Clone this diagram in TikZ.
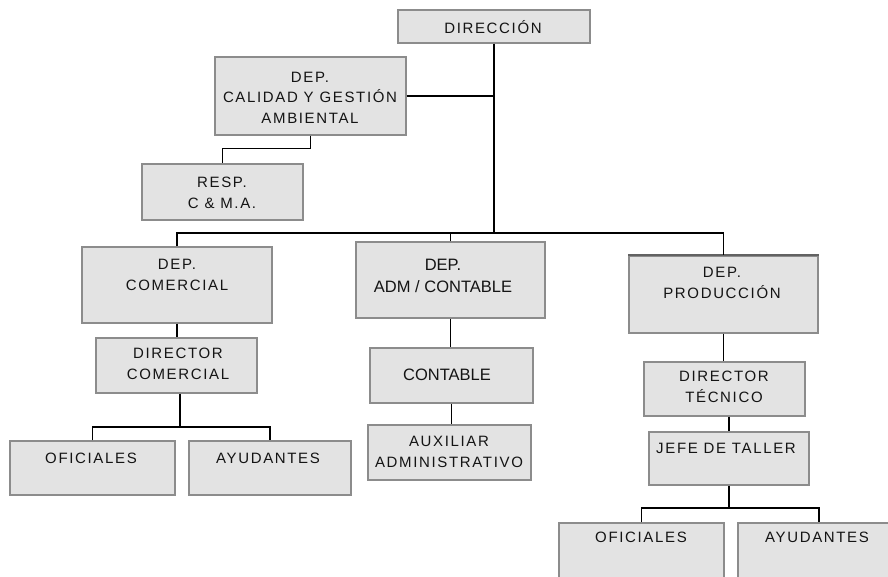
\documentclass[tikz,border=0pt]{standalone}
\usepackage{fontspec}
\setmainfont{Liberation Sans}
\newfontfamily\spaced[LetterSpace=11]{Liberation Sans}
\definecolor{boxfill}{RGB}{227,227,227}
\definecolor{boxline}{RGB}{140,140,140}
\definecolor{ink}{RGB}{20,20,20}
\tikzset{
  orgbox/.style={draw=boxline, fill=boxfill, line width=1.2pt, inner sep=0pt, anchor=center},
  lbl/.style={anchor=base, inner sep=0pt, align=center, text=ink, font=\spaced\fontsize{15}{20.5}\selectfont},
  lblplain/.style={anchor=base, inner sep=0pt, align=center, text=ink, font=\fontsize{16.5}{22}\selectfont},
  link/.style={draw=black, line width=1.3pt}
}
\begin{document}
\begin{tikzpicture}[x=1pt,y=-1pt]
\useasboundingbox (0,0) rectangle (888,576);
\clip (0,0) rectangle (888,576);
% boxes: centre = middle of corners
\node[orgbox, minimum width=192pt, minimum height=33pt] (dir) at (494,26.5) {};
\node[orgbox, minimum width=191pt, minimum height=78pt] (cal) at (310.5,96) {};
\node[orgbox, minimum width=161pt, minimum height=56pt] (resp) at (222.5,192) {};
\node[orgbox, minimum width=190pt, minimum height=76pt] (com) at (177,285) {};
\node[orgbox, minimum width=161pt, minimum height=55pt] (dcom) at (176.5,365.5) {};
\node[orgbox, minimum width=165pt, minimum height=54pt] (ofl) at (92.5,468) {};
\node[orgbox, minimum width=162pt, minimum height=54pt] (ayl) at (270,468) {};
\node[orgbox, minimum width=189pt, minimum height=76pt] (adm) at (450.5,280) {};
\node[orgbox, minimum width=163pt, minimum height=55pt] (cont) at (451.5,375.5) {};
\node[orgbox, minimum width=163pt, minimum height=55pt] (aux) at (449.5,452.5) {};
\node[orgbox, minimum width=189pt, minimum height=77pt] (prod) at (723.5,294.5) {};
\node[orgbox, minimum width=161pt, minimum height=54pt] (dtec) at (724.5,389) {};
\node[orgbox, minimum width=160pt, minimum height=53pt] (jefe) at (729,458.5) {};
\node[orgbox, minimum width=165pt, minimum height=67pt] (ofr) at (641.5,556.5) {};
\node[orgbox, minimum width=162pt, minimum height=67pt] (ayr) at (819,556.5) {};
\draw[boxline!70!black, line width=2pt] (prod.north west) -- (prod.north east);
% labels (base = baseline of last line)
\node[lbl] (tdir) at (493,33) {DIRECCIÓN};
\node[lbl] (tcal) at (310,123) {DEP.\\CALIDAD Y GESTIÓN\\AMBIENTAL};
\node[lbl] (tresp) at (222,208) {RESP.\\C \& M.A.};
\node[lbl] (tcom) at (177,290) {DEP.\\COMERCIAL};
\node[lbl] (tdcom) at (178,379) {DIRECTOR\\COMERCIAL};
\node[lbl] (tofl) at (91,463) {OFICIALES};
\node[lbl] (tayl) at (268,463) {AYUDANTES};
\node[lblplain] (tadm) at (443,292) {DEP.\\ADM / CONTABLE};
\node[lblplain] (tcont) at (447,380) {CONTABLE};
\node[lbl] (taux) at (449,467) {AUXILIAR\\ADMINISTRATIVO};
\node[lbl] (tprod) at (722,298) {DEP.\\PRODUCCIÓN};
\node[lbl] (tdtec) at (724,402) {DIRECTOR\\TÉCNICO};
\node[lbl] (tjefe) at (726,453) {JEFE DE TALLER};
\node[lbl] (tofr) at (641,542) {OFICIALES};
\node[lbl] (tayr) at (817,542) {AYUDANTES};
% junction points
\coordinate (bus) at (494,233);
\coordinate (k1) at (180,427);
\coordinate (k2) at (730,508);
% connectors
\draw[link] (dir.south) -- (bus);
\draw[link] (cal.east) -- (cal.east -| dir.south);
\draw[link] (com.north) -- (com.north |- bus) -- (prod.north |- bus) -- (prod.north);
\draw[link] (adm.north) -- (adm.north |- bus);
\draw[link] (cal.south) -- ++(0,13) -| (resp.north);
\draw[link] (com.south) -- (com.south |- dcom.north);
\draw[link] (k1 |- dcom.south) -- (k1);
\draw[link] (ofl.north) |- (k1) -| (ayl.north);
\draw[link] (adm.south) -- (adm.south |- cont.north);
\draw[link] (cont.south) -- (cont.south |- aux.north);
\draw[link] (prod.south) -- (prod.south |- dtec.north);
\draw[link] (jefe.north |- dtec.south) -- (jefe.north);
\draw[link] (jefe.south) -- (jefe.south |- k2);
\draw[link] (ofr.north) |- (k2) -| (ayr.north);
\end{tikzpicture}
\end{document}
